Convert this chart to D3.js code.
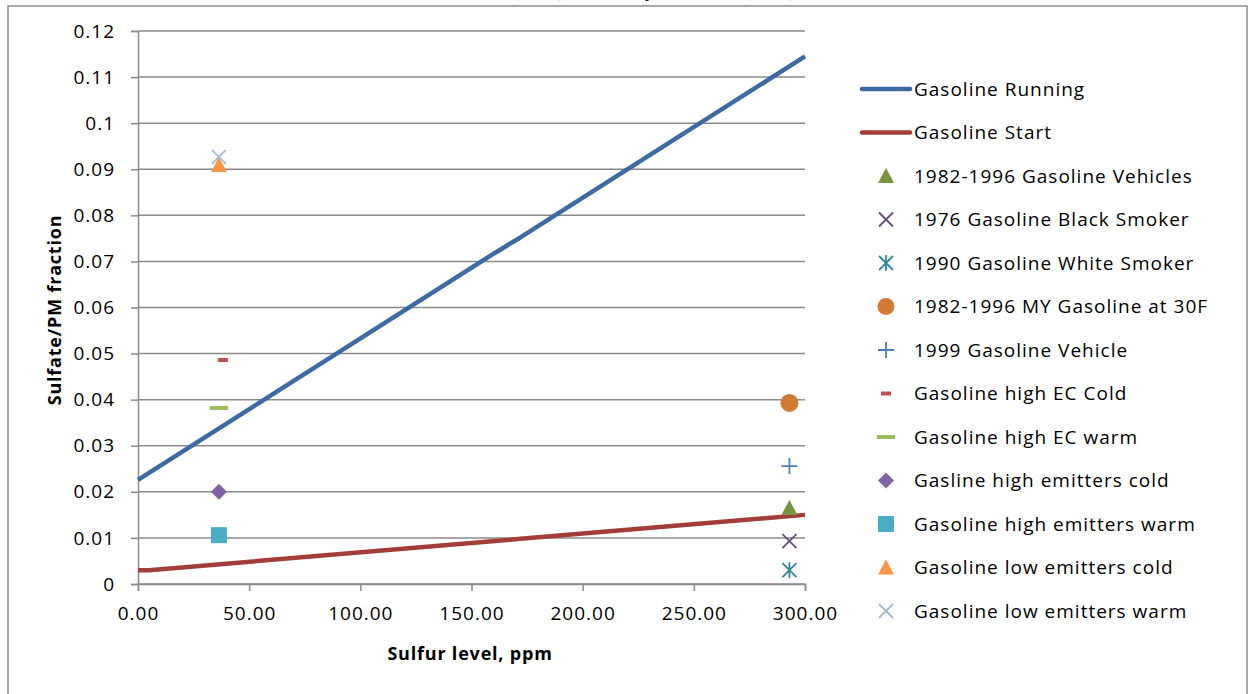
<!DOCTYPE html>
<html><head><meta charset="utf-8">
<script src="https://cdn.jsdelivr.net/npm/d3@7"></script>
<style>
body{margin:0;background:#fff;}
svg{display:block;}
text{font-family:"Open Sans",Lato,sans-serif;fill:#000;}
</style></head><body>
<svg id="c" width="1249" height="694"></svg>
<script>
// ---- data ----
const xTicks = [0,50,100,150,200,250,300];
const yTicks = [0,0.01,0.02,0.03,0.04,0.05,0.06,0.07,0.08,0.09,0.1,0.11,0.12];
const runningX = [0,160,172,300];
const runningY = [0.0226,0.0717,0.0752,0.1145];
const startX = [0,5,172,300];
const startY = [0.0030,0.0030,0.0098,0.0150];
const pointNames = ["1982-1996 Gasoline Vehicles","1976 Gasoline Black Smoker","1990 Gasoline White Smoker","1982-1996 MY Gasoline  at 30F","1999 Gasoline Vehicle","Gasoline high EC Cold","Gasoline high EC warm","Gasline high emitters cold","Gasoline high emitters warm","Gasoline low emitters cold","Gasoline low emitters warm"];
const pointX = [293,293,293,293,293,38.2,36.4,36.4,36.4,36.4,36.4];
const pointY = [0.0165,0.0093,0.0030,0.0393,0.0256,0.0486,0.0382,0.0200,0.0106,0.0909,0.0927];
const pointShapes = ["triangle","x","asterisk","circle","plus","dashS","dashL","diamond","square","triangle","x"];
const pointColors = ["#77933C","#664B86","#31869B","#D07A34","#4A7EBB","#C0504D","#9BBB59","#8064A2","#4BACC6","#F79646","#A5B8D8"];
const lineNames = ["Gasoline Running","Gasoline Start"];
const lineColors = ["#3E6AA3","#A23D3A"];

// ---- layout ----
const svg = d3.select("#c");
const grid = "#8a8a8a";
svg.append("rect").attr("x",8).attr("y",6).attr("width",1239).attr("height",720)
  .attr("fill","none").attr("stroke",grid).attr("stroke-width",1.5);

// cut-off title (only descenders visible above the frame)
const tt = svg.append("g");
tt.append("text").attr("x",512).attr("y",-4).style("font-family","Liberation Serif").attr("font-weight","bold").attr("font-size",20).text("(2010)");
tt.append("text").attr("x",655).attr("y",-4).attr("text-anchor","end").style("font-family","Liberation Serif").attr("font-weight","bold").attr("font-size",20).text("Study");
tt.append("text").attr("x",744).attr("y",-4).style("font-family","Liberation Serif").attr("font-weight","bold").attr("font-size",20).text("(2011)");

const x = d3.scaleLinear().domain([0,300]).range([138,805]);
const y = d3.scaleLinear().domain([0,0.12]).range([584,31]);

// gridlines
svg.append("g").selectAll("line").data(yTicks).join("line")
  .attr("x1",138).attr("x2",805).attr("y1",d=>y(d)).attr("y2",d=>y(d))
  .attr("stroke",grid).attr("stroke-width",1.5);

// y axis
const yAx = svg.append("g").attr("transform","translate(138,0)")
  .call(d3.axisLeft(y).tickValues(yTicks).tickSize(7).tickPadding(16).tickFormat(d=>String(+d.toFixed(2))));
// x axis
const xAx = svg.append("g").attr("transform","translate(0,584)")
  .call(d3.axisBottom(x).tickValues(xTicks).tickSize(7).tickPadding(16).tickFormat(d3.format(".2f")));
[yAx,xAx].forEach(a=>{
  a.selectAll("path").attr("stroke",grid).attr("stroke-width",1.5);
  a.selectAll("line").attr("stroke",grid).attr("stroke-width",1.5);
  a.selectAll("text").attr("font-family","Open Sans").attr("font-size",19).attr("letter-spacing","1px").attr("fill","#000");
});

// axis titles
svg.append("text").attr("transform","translate(61,310) rotate(-90)").attr("text-anchor","middle")
  .attr("font-weight","bold").attr("font-size",18).attr("letter-spacing","0.8px").text("Sulfate/PM fraction");
svg.append("text").attr("x",470).attr("y",660).attr("text-anchor","middle")
  .attr("font-weight","bold").attr("font-size",18).attr("letter-spacing","0.8px").text("Sulfur level, ppm");

// lines
const lg = d3.line().x(d=>x(d[0])).y(d=>y(d[1]));
const lineData = [runningX.map((v,i)=>[v,runningY[i]]), startX.map((v,i)=>[v,startY[i]])];
svg.append("g").selectAll("path").data(lineData).join("path")
  .attr("d",lg).attr("fill","none").attr("stroke",(d,i)=>lineColors[i]).attr("stroke-width",4.5)
  .attr("stroke-linejoin","round");

// markers
function marker(g, shape, color, legend){
  const s = 8;
  switch(shape){
    case "triangle": g.append("path").attr("d",`M0,${-s}L${s},${s-1}L${-s},${s-1}Z`).attr("fill",color); break;
    case "circle": g.append("circle").attr("r",legend?8.5:9).attr("fill",color); break;
    case "square": g.append("rect").attr("x",-8).attr("y",-8).attr("width",16).attr("height",16).attr("fill",color); break;
    case "diamond": g.append("path").attr("d",`M0,-8L8,0L0,8L-8,0Z`).attr("fill",color); break;
    case "dashS": g.append("rect").attr("x",-5).attr("y",-2).attr("width",10).attr("height",4).attr("fill",color); break;
    case "dashL": g.append("rect").attr("x",-9).attr("y",-2).attr("width",18).attr("height",4).attr("fill",color); break;
    case "x": g.append("path").attr("d","M-7,-7L7,7M7,-7L-7,7").attr("stroke",color).attr("stroke-width",1.8); break;
    case "plus": g.append("path").attr("d","M-8,0L8,0M0,-8L0,8").attr("stroke",color).attr("stroke-width",1.8); break;
    case "asterisk": g.append("path").attr("d","M-7,-7L7,7M7,-7L-7,7M0,-8L0,8").attr("stroke",color).attr("stroke-width",1.8); break;
  }
}
pointX.forEach((px,i)=>{
  const g = svg.append("g").attr("transform",`translate(${x(px)},${y(pointY[i])})`);
  marker(g, pointShapes[i], pointColors[i], false);
});

// legend
const leg = svg.append("g");
const rowY = i => 89 + i*43.5;
lineNames.forEach((n,i)=>{
  leg.append("line").attr("x1",862).attr("x2",910).attr("y1",rowY(i)).attr("y2",rowY(i))
    .attr("stroke",lineColors[i]).attr("stroke-width",4.5).attr("stroke-linecap","round");
  leg.append("text").attr("x",914).attr("y",rowY(i)).attr("dy","0.35em").attr("font-size",19).attr("letter-spacing","1px").text(n);
});
pointNames.forEach((n,i)=>{
  const r = i+2;
  const g = leg.append("g").attr("transform",`translate(886,${rowY(r)})`);
  marker(g, pointShapes[i], pointColors[i], true);
  leg.append("text").attr("x",914).attr("y",rowY(r)).attr("dy","0.35em").attr("font-size",19).attr("letter-spacing","1px").text(n);
});
</script>
</body></html>
